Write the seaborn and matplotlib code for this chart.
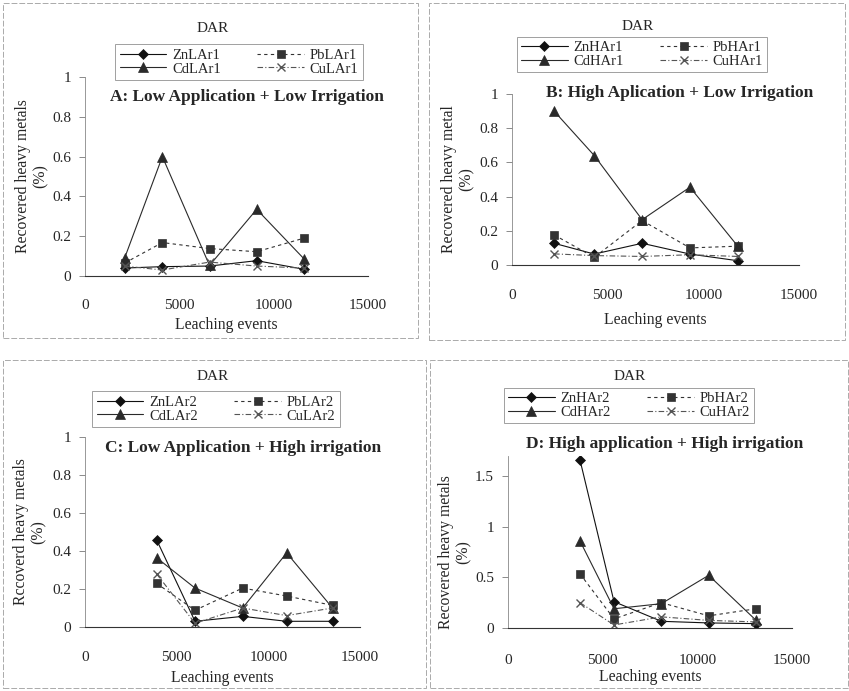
import matplotlib
matplotlib.use("Agg")
import matplotlib.pyplot as plt
import seaborn as sns
import numpy as np
from matplotlib.patches import Rectangle
from matplotlib.lines import Line2D
from matplotlib.ticker import FuncFormatter

# ---------------- data ----------------
x_A = [2100, 4100, 6600, 9100, 11600]
zn_A = [0.04, 0.047, 0.05, 0.077, 0.034]
pb_A = [0.065, 0.168, 0.138, 0.122, 0.19]
cd_A = [0.09, 0.60, 0.053, 0.335, 0.087]
cu_A = [0.05, 0.03, 0.07, 0.05, 0.04]

x_B = [2200, 4300, 6800, 9300, 11800]
zn_B = [0.127, 0.064, 0.127, 0.064, 0.025]
pb_B = [0.176, 0.045, 0.26, 0.10, 0.11]
cd_B = [0.90, 0.64, 0.265, 0.455, 0.11]
cu_B = [0.065, 0.055, 0.05, 0.06, 0.05]

x_C = [3900, 6000, 8600, 11000, 13500]
zn_C = [0.46, 0.03, 0.056, 0.03, 0.03]
pb_C = [0.23, 0.088, 0.205, 0.163, 0.114]
cd_C = [0.365, 0.205, 0.10, 0.39, 0.10]
cu_C = [0.28, 0.02, 0.10, 0.06, 0.10]

x_D = [3800, 5600, 8100, 10600, 13100]
zn_D = [1.66, 0.26, 0.066, 0.05, 0.043]
pb_D = [0.535, 0.09, 0.25, 0.12, 0.19]
cd_D = [0.86, 0.19, 0.24, 0.52, 0.076]
cu_D = [0.25, 0.03, 0.11, 0.075, 0.06]

labels_A = ["ZnLAr1", "PbLAr1", "CdLAr1", "CuLAr1"]
labels_B = ["ZnHAr1", "PbHAr1", "CdHAr1", "CuHAr1"]
labels_C = ["ZnLAr2", "PbLAr2", "CdLAr2", "CuLAr2"]
labels_D = ["ZnHAr2", "PbHAr2", "CdHAr2", "CuHAr2"]

titles = ["A: Low Application + Low Irrigation",
          "B: High Aplication + Low Irrigation",
          "C: Low Application + High irrigation",
          "D: High application + High irrigation"]
ylabels = ["Recovered heavy metals\n(%)",
           "Recovered heavy metal\n(%)",
           "Rccoverd heavy metals\n(%)",
           "Recovered heavy metals\n(%)"]
xlabel = "Leaching events"
legend_title = "DAR"

# ---------------- style ----------------
sns.set_theme(style="white")
plt.rcParams['font.family'] = ['Liberation Serif', 'DejaVu Serif']
plt.rcParams['axes.linewidth'] = 0.8

W, H = 849, 691
fig = plt.figure(figsize=(W / 100, H / 100), dpi=100)

def fx(p):
    return p / W

def fy(p):
    return 1 - p / H

# series styling: (marker, linestyle, color, markersize)
styles = [("D", "-", "#111111", 5),
          ("s", (0, (3, 3)), "#333333", 5.5),
          ("^", "-", "#2a2a2a", 7),
          ("x", (0, (5, 2, 1, 2)), "#555555", 6)]

panels = [
    dict(x=x_A, ys=[zn_A, pb_A, cd_A, cu_A], labels=labels_A,
         px=(85, 368), py=(276, 77), ymax=1.0, yticks=[0, 0.2, 0.4, 0.6, 0.8, 1.0],
         leg=(126, 42, 352, 82), dar=(213, 29), title=(247, 97),
         ylab_x=32, xticky=298, xlaby=325),
    dict(x=x_B, ys=[zn_B, pb_B, cd_B, cu_B], labels=labels_B,
         px=(512, 799), py=(265, 94), ymax=1.0, yticks=[0, 0.2, 0.4, 0.6, 0.8, 1.0],
         leg=(534, 37, 750, 72), dar=(638, 27), title=(680, 93),
         ylab_x=458, xticky=288, xlaby=320),
    dict(x=x_C, ys=[zn_C, pb_C, cd_C, cu_C], labels=labels_C,
         px=(85, 360), py=(627, 437), ymax=1.0, yticks=[0, 0.2, 0.4, 0.6, 0.8, 1.0],
         leg=(102, 390, 330, 428), dar=(213, 377), title=(243, 448),
         ylab_x=30, xticky=650, xlaby=678),
    dict(x=x_D, ys=[zn_D, pb_D, cd_D, cu_D], labels=labels_D,
         px=(508, 792), py=(628, 476), ymax=1.5, yticks=[0, 0.5, 1.0, 1.5],
         leg=(512, 388, 746, 423), dar=(630, 377), title=(665, 444),
         ylab_x=455, xticky=653, xlaby=677),
]

fmt = FuncFormatter(lambda v, p: ("%g" % v))

for i, P in enumerate(panels):
    x0, x1 = P["px"]
    y0, yt = P["py"]
    ymax_tick = P["ymax"]
    ylim_top = ymax_tick * 1.0
    if i == 3:
        ylim_top = 1.7
        ytop_px = y0 - (y0 - yt) * ylim_top / ymax_tick
    else:
        ytop_px = yt
    ax = fig.add_axes([fx(x0), fy(y0), fx(x1 - x0), (y0 - ytop_px) / H])
    ax.set_facecolor("none")
    for ys, lab, (m, ls, c, ms) in zip(P["ys"], P["labels"], styles):
        sns.lineplot(x=P["x"], y=ys, ax=ax, marker=m, linestyle=ls, color=c,
                     markersize=ms, linewidth=0.8, markeredgecolor=c,
                     markeredgewidth=1.0 if m == "x" else 0.5, legend=False)
    ax.set_xlim(0, 15000)
    ax.set_ylim(0, ylim_top)
    ax.set_xticks([0, 5000, 10000, 15000])
    ax.set_yticks(P["yticks"])
    ax.yaxis.set_major_formatter(fmt)
    ax.xaxis.set_major_formatter(fmt)
    for s in ["top", "right"]:
        ax.spines[s].set_visible(False)
    ax.spines["left"].set_color("#888888")
    ax.spines["left"].set_linewidth(0.6)
    ax.spines["bottom"].set_color("#333333")
    ax.tick_params(axis="y", which="both", left=True, length=4, width=0.6,
                   color="#777777", labelsize=11, pad=6)
    ax.tick_params(axis="x", which="both", bottom=False, labelsize=11,
                   pad=((P["xticky"] - y0) - 7) * 0.72)
    ax.set_xlabel("")
    ax.set_ylabel("")
    fig.text(fx(P["ylab_x"]), fy((y0 + yt) / 2), ylabels[i], rotation=90,
             ha="center", va="center", fontsize=11.3, linespacing=1.1)
    fig.text(fx((x0 + x1) / 2), fy(P["xlaby"]), xlabel, ha="center",
             va="center", fontsize=11.3)
    fig.text(fx(P["title"][0]), fy(P["title"][1]), titles[i], ha="center",
             va="center", fontsize=12.5, fontweight="bold")
    fig.text(fx(P["dar"][0]), fy(P["dar"][1]), legend_title, ha="center",
             va="center", fontsize=11)
    handles = [Line2D([], [], marker=m, linestyle=ls, color=c, markersize=ms,
                      linewidth=0.8, markeredgewidth=1.0 if m == "x" else 0.5)
               for (m, ls, c, ms) in styles]
    lx0, ly0, lx1, ly1 = P["leg"]
    order = [0, 2, 1, 3]
    leg = fig.legend([handles[k] for k in order], [P["labels"][k] for k in order],
                     ncol=2, loc="center",
                     bbox_to_anchor=(fx((lx0 + lx1) / 2), fy((ly0 + ly1) / 2)),
                     fontsize=10.5, frameon=True, fancybox=False,
                     edgecolor="#888888", handlelength=3.2, columnspacing=2.5,
                     labelspacing=0.05, borderpad=0.3, handletextpad=0.4)
    leg.get_frame().set_linewidth(0.7)

borders = [(3, 3, 418, 338), (429, 3, 845, 340), (3, 360, 426, 688), (430, 360, 848, 688)]
for (bx0, by0, bx1, by1) in borders:
    fig.patches.append(Rectangle((fx(bx0), fy(by1)), fx(bx1 - bx0), (by1 - by0) / H,
                                 transform=fig.transFigure, fill=False,
                                 edgecolor="#aaaaaa", linewidth=0.7,
                                 linestyle=(0, (6, 2))))

fig.savefig("out.png", dpi=100)
